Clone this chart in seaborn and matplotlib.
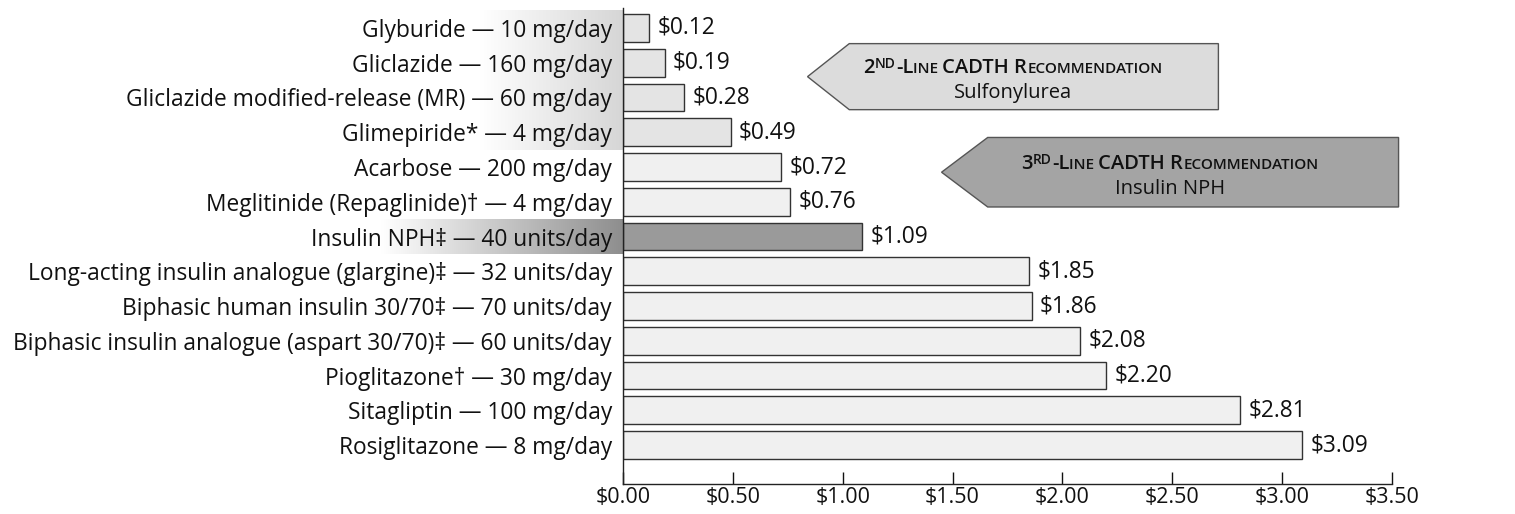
import numpy as np
import matplotlib
matplotlib.use("Agg")
import matplotlib.pyplot as plt
import seaborn as sns
from matplotlib.patches import Polygon
from matplotlib.ticker import FuncFormatter

# data
drugs = [
    "Glyburide — 10 mg/day",
    "Gliclazide — 160 mg/day",
    "Gliclazide modified-release (MR) — 60 mg/day",
    "Glimepiride* — 4 mg/day",
    "Acarbose — 200 mg/day",
    "Meglitinide (Repaglinide)† — 4 mg/day",
    "Insulin NPH‡ — 40 units/day",
    "Long-acting insulin analogue (glargine)‡ — 32 units/day",
    "Biphasic human insulin 30/70‡ — 70 units/day",
    "Biphasic insulin analogue (aspart 30/70)‡ — 60 units/day",
    "Pioglitazone† — 30 mg/day",
    "Sitagliptin — 100 mg/day",
    "Rosiglitazone — 8 mg/day",
]
daily_cost = [0.12, 0.19, 0.28, 0.49, 0.72, 0.76, 1.09, 1.85, 1.86, 2.08, 2.20, 2.81, 3.09]
sulfonylureas = drugs[:4]
nph = drugs[6]
x_ticks = [0, 0.5, 1.0, 1.5, 2.0, 2.5, 3.0, 3.5]

sns.set_theme(style="white")
FONT = ["Open Sans", "DejaVu Sans"]
plt.rcParams['font.family'] = FONT
FS = 16.4

colors = []
for d in drugs:
    if d == nph:
        colors.append("#9a9a9a")
    elif d in sulfonylureas:
        colors.append("#e4e4e4")
    else:
        colors.append("#f0f0f0")

fig = plt.figure(figsize=(15.15, 5.14), dpi=100)
ax = fig.add_axes([0.4112, 0.0584, 0.5076, 0.9261])

sns.barplot(x=daily_cost, y=drugs, hue=drugs, palette=colors, legend=False,
            orient="h", width=0.8, edgecolor="#333333", linewidth=1.0, ax=ax)

for cont in ax.containers:
    ax.bar_label(cont, fmt="${:.2f}", padding=6, fontsize=FS, color="#111111")

ax.set_xticks(x_ticks)
ax.xaxis.set_major_formatter(FuncFormatter(lambda v, p: f"${v:.2f}"))
ax.tick_params(axis="x", direction="in", length=9, width=1, colors="#111111",
               labelsize=15.5, pad=2, bottom=True)
ax.tick_params(axis="y", length=0, labelsize=FS, pad=8, labelcolor="#111111")
ax.set_xlabel("")
ax.set_ylabel("")
for s in ["top", "right"]:
    ax.spines[s].set_visible(False)
for s in ["left", "bottom"]:
    ax.spines[s].set_color("#222222")
    ax.spines[s].set_linewidth(1.0)

# gradient highlight behind label groups
grad = np.linspace(0, 1, 256).reshape(1, -1)
ax.imshow(grad, cmap=matplotlib.colors.LinearSegmentedColormap.from_list("g1", ["#ffffff", "#d6d6d6"]),
          extent=(-0.65, 0, 3.5, -0.5), aspect="auto", clip_on=False, zorder=0)
ax.imshow(grad, cmap=matplotlib.colors.LinearSegmentedColormap.from_list("g2", ["#ffffff", "#8e8e8e"]),
          extent=(-1.1, 0, 6.5, 5.5), aspect="auto", clip_on=False, zorder=0)
ax.set_xlim(0, 3.5)
ax.set_ylim(13.12, -0.576)


def small_caps_line(ax, x, y, segments, fig):
    # segments: list of (text, size, dy_points)
    r = fig.canvas.get_renderer()
    widths = []
    for txt, size, dy in segments:
        t = fig.text(0, 0, txt, fontsize=size, fontweight="semibold", family=FONT)
        widths.append(t.get_window_extent(renderer=r).width * 72 / fig.dpi)
        t.remove()
    total = sum(widths)
    cur = -total / 2
    for (txt, size, dy), w in zip(segments, widths):
        ax.annotate(txt, (x, y), xytext=(cur, dy), textcoords="offset points",
                    fontsize=size, fontweight="semibold", ha="left", va="baseline",
                    color="#111111", annotation_clip=False, zorder=6)
        cur += w


def banner(ax, fig, tip_x, left_x, right_x, top_y, bot_y, face, num, sup, sub):
    mid = (top_y + bot_y) / 2
    poly = Polygon([(tip_x, mid), (left_x, top_y), (right_x, top_y), (right_x, bot_y), (left_x, bot_y)],
                   closed=True, facecolor=face, edgecolor="#555555", linewidth=1.0, zorder=5,
                   clip_on=False)
    ax.add_patch(poly)
    cx = (tip_x + right_x) / 2
    small_caps_line(ax, cx, mid - 0.1, [
        (num, 14.5, 0), (sup, 10, 3.5), ("-L", 14.5, 0), ("INE ", 11, 0),
        ("CADTH R", 14.5, 0), ("ECOMMENDATION", 11, 0)], fig)
    ax.text(cx, mid + 0.62, sub, fontsize=14.5, ha="center", va="baseline",
            color="#111111", zorder=6)


banner(ax, fig, 0.84, 1.03, 2.71, 0.45, 2.35, "#dcdcdc", "2", "ND", "Sulfonylurea")
banner(ax, fig, 1.45, 1.66, 3.53, 3.15, 5.15, "#a4a4a4", "3", "RD", "Insulin NPH")

fig.savefig("out.png", dpi=100)
